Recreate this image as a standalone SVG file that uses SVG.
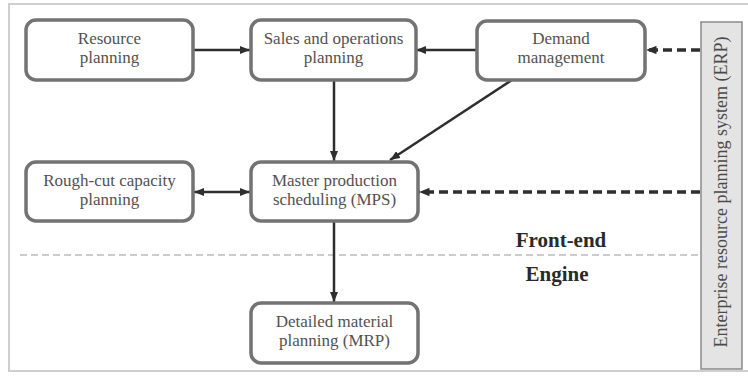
<svg xmlns="http://www.w3.org/2000/svg" width="748" height="378" viewBox="0 0 748 378">
  <style>
    .box { fill: #ffffff; stroke: #737373; stroke-width: 3.5; }
    .lbl { font-family: "Liberation Serif", "Times New Roman", serif; font-size: 17px; fill: #525252; text-anchor: middle; }
    .head { font-family: "Liberation Serif", "Times New Roman", serif; font-size: 21px; font-weight: bold; fill: #2a2a2a; text-anchor: middle; }
    .erp { font-family: "Liberation Serif", "Times New Roman", serif; font-size: 18px; fill: #4a4a4a; text-anchor: middle; }
    .solid { stroke: #2e2e2e; stroke-width: 2.5; fill: none; }
    .dash { stroke: #2e2e2e; stroke-width: 3.5; stroke-dasharray: 9 5; fill: none; }
  </style>
  <defs>
    <marker id="arrow" viewBox="0 0 10 8" refX="10" refY="4" markerWidth="4" markerHeight="3.2" markerUnits="strokeWidth" orient="auto-start-reverse">
      <path d="M0,0 L10,4 L0,8 z" fill="#2e2e2e"/>
    </marker>
    <marker id="arrowDash" viewBox="0 0 10 8" refX="10" refY="4" markerWidth="3" markerHeight="2.4" markerUnits="strokeWidth" orient="auto">
      <path d="M0,0 L10,4 L0,8 z" fill="#2e2e2e"/>
    </marker>
  </defs>

  <rect width="748" height="378" fill="#ffffff"/>
  <!-- outer frame -->
  <rect x="9" y="4" width="745" height="367" fill="none" stroke="#cfcfcf" stroke-width="2"/>

  <!-- front-end / engine divider -->
  <line x1="20" y1="255" x2="700" y2="255" stroke="#9a9a9a" stroke-width="1.2" stroke-dasharray="7 4"/>
  <text class="head" x="561" y="247">Front-end</text>
  <text class="head" x="557" y="281">Engine</text>

  <g id="connectors">
    <line class="solid" x1="193" y1="50" x2="250" y2="50" marker-end="url(#arrow)"/>
    <line class="solid" x1="477" y1="50" x2="416" y2="50" marker-end="url(#arrow)"/>
    <line class="dash" x1="700" y1="50" x2="646" y2="50" marker-end="url(#arrowDash)"/>
    <line class="solid" x1="334" y1="80" x2="334" y2="161" marker-end="url(#arrow)"/>
    <line class="solid" x1="512" y1="80" x2="390" y2="160" marker-end="url(#arrow)"/>
    <line class="solid" x1="194" y1="192" x2="250" y2="192" marker-start="url(#arrow)" marker-end="url(#arrow)"/>
    <line class="dash" x1="700" y1="192" x2="419" y2="192" marker-end="url(#arrowDash)"/>
    <line class="solid" x1="334" y1="221" x2="334" y2="302" marker-end="url(#arrow)"/>
  </g>

  <g id="resource-planning">
    <rect class="box" x="26" y="20" width="167" height="60" rx="10"/>
    <text class="lbl" x="109.5" y="44">Resource</text>
    <text class="lbl" x="109.5" y="63">planning</text>
  </g>

  <g id="sales-operations">
    <rect class="box" x="251" y="20" width="165" height="60" rx="10"/>
    <text class="lbl" x="333.5" y="44">Sales and operations</text>
    <text class="lbl" x="333.5" y="63">planning</text>
  </g>

  <g id="demand-management">
    <rect class="box" x="477" y="21" width="168" height="59" rx="10"/>
    <text class="lbl" x="561" y="44">Demand</text>
    <text class="lbl" x="561" y="63">management</text>
  </g>

  <g id="rough-cut">
    <rect class="box" x="26" y="162" width="167" height="59" rx="10"/>
    <text class="lbl" x="109.5" y="186">Rough-cut capacity</text>
    <text class="lbl" x="109.5" y="205">planning</text>
  </g>

  <g id="mps">
    <rect class="box" x="251" y="162" width="167" height="59" rx="10"/>
    <text class="lbl" x="334.5" y="186">Master production</text>
    <text class="lbl" x="334.5" y="205">scheduling (MPS)</text>
  </g>

  <g id="mrp">
    <rect class="box" x="251" y="303" width="167" height="60" rx="10"/>
    <text class="lbl" x="334.5" y="327">Detailed material</text>
    <text class="lbl" x="334.5" y="346">planning (MRP)</text>
  </g>

  <g id="erp">
    <rect x="701" y="22" width="41" height="347" fill="#e4e4e4" stroke="#8a8a8a" stroke-width="1.5"/>
    <text class="erp" transform="translate(727 192) rotate(-90)">Enterprise resource planning system (ERP)</text>
  </g>
</svg>
